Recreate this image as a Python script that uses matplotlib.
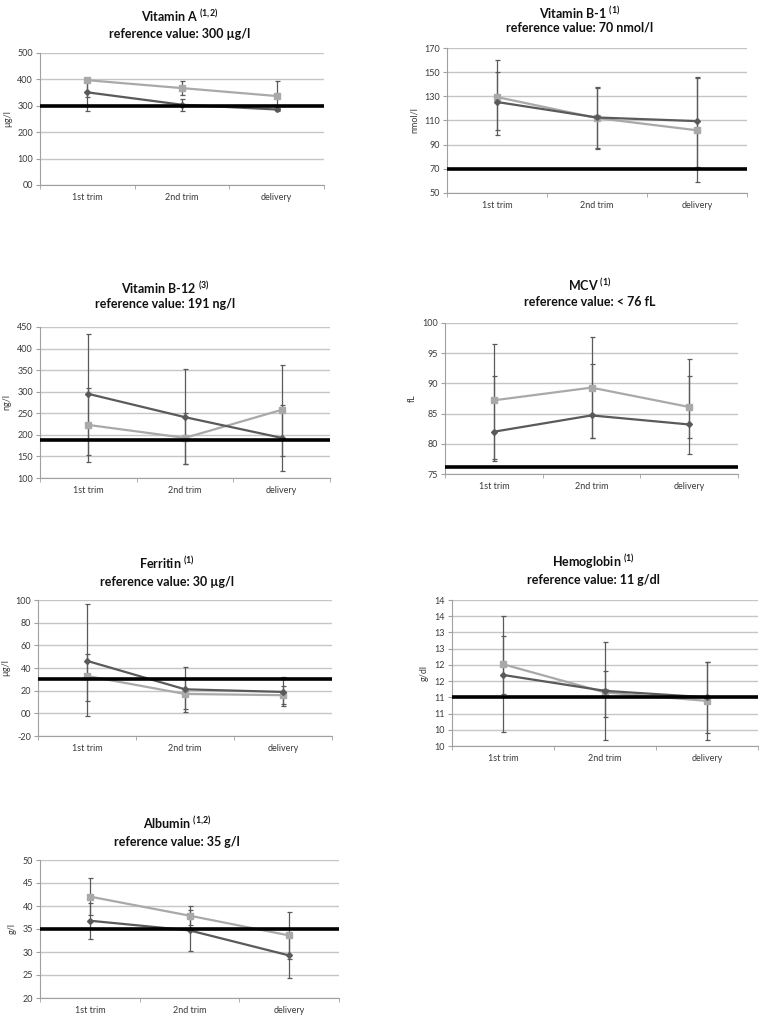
import numpy as np
import matplotlib
matplotlib.use('Agg')
import matplotlib.pyplot as plt
from matplotlib.ticker import FuncFormatter, FixedLocator

plt.rcParams['font.family'] = ['Lato', 'DejaVu Sans']
plt.rcParams['mathtext.fontset'] = 'custom'
plt.rcParams['mathtext.rm'] = 'Lato'
plt.rcParams['mathtext.bf'] = 'Lato:bold'
plt.rcParams['mathtext.default'] = 'bf'

timepoints = ['1st trim', '2nd trim', 'delivery']

# Vitamin A (µg/l)
vita_dark = [351, 304, 286]
vita_dark_lo = [281, 281, 283]
vita_dark_hi = [400, 325, 292]
vita_light = [397, 367, 337]
vita_light_lo = [334, 340, 281]
vita_light_hi = [405, 394, 393]

# Vitamin B-1 (nmol/l)
vitb1_dark = [125.3, 112.5, 109.5]
vitb1_dark_lo = [101.9, 87, 71.5]
vitb1_dark_hi = [150.1, 137, 146]
vitb1_light = [129.4, 112, 101.9]
vitb1_light_lo = [97.7, 86, 59]
vitb1_light_hi = [160.3, 138, 145]

# Vitamin B-12 (ng/l)
vitb12_dark = [295, 241, 193]
vitb12_dark_lo = [154, 132, 117]
vitb12_dark_hi = [434, 352, 270]
vitb12_light = [223, 193, 258]
vitb12_light_lo = [137, 133, 152]
vitb12_light_hi = [309, 250, 363]

# MCV (fL)
mcv_dark = [82.0, 84.7, 83.2]
mcv_dark_lo = [77.2, 81.0, 80.9]
mcv_dark_hi = [91.3, 93.2, 91.3]
mcv_light = [87.2, 89.3, 86.1]
mcv_light_lo = [77.5, 80.9, 78.3]
mcv_light_hi = [96.6, 97.7, 94.1]

# Ferritin (µg/l)
ferr_dark = [46.3, 21.2, 18.9]
ferr_dark_lo = [-2.7, 1.2, 6.5]
ferr_dark_hi = [96.2, 41.3, 32.2]
ferr_light = [33.0, 17.1, 16.0]
ferr_light_lo = [11.2, 3.5, 8.0]
ferr_light_hi = [52.2, 30.7, 23.9]

# Hemoglobin (g/dl)
hb_dark = [11.69, 11.2, 11.0]
hb_dark_lo = [9.93, 9.69, 9.9]
hb_dark_hi = [13.5, 12.7, 12.1]
hb_light = [12.02, 11.15, 10.89]
hb_light_lo = [11.1, 10.4, 9.69]
hb_light_hi = [12.9, 11.81, 12.09]

# Albumin (g/l)
alb_dark = [36.8, 34.7, 29.25]
alb_dark_lo = [32.9, 30.3, 24.45]
alb_dark_hi = [40.7, 39.1, 34.05]
alb_light = [42.05, 37.9, 33.6]
alb_light_lo = [38.1, 35.9, 28.5]
alb_light_hi = [46.0, 39.9, 38.7]

W, H = 764, 1019
fig = plt.figure(figsize=(W / 100, H / 100), dpi=100)

DARK = '#5a5a5a'
LIGHT = '#a9a9a9'
GRID = '#c6c6c6'
TICK = '#3a3a3a'


def px_axes(x0, y0, x1, y1):
    return fig.add_axes([x0 / W, 1 - y1 / H, (x1 - x0) / W, (y1 - y0) / H])


def title(cx, y1, y2, name, sup, ref):
    fig.text(cx / W, 1 - y1 / H, name + r'$^{' + sup + '}$', ha='center', va='center',
             fontsize=9, fontweight='bold', color='#111111')
    fig.text(cx / W, 1 - y2 / H, ref, ha='center', va='center',
             fontsize=9, fontweight='bold', color='#111111')


def panel(ax, dark, dlo, dhi, light, llo, lhi, ref, ymin, ymax, step, ylabel, fmt):
    x = np.arange(len(timepoints))
    ax.set_xlim(-0.5, 2.5)
    ax.set_ylim(ymin, ymax)
    ax.yaxis.set_major_locator(FixedLocator(np.arange(ymin, ymax + step / 2, step)))
    ax.yaxis.set_major_formatter(FuncFormatter(fmt))
    ax.grid(axis='y', color=GRID, lw=1.0, zorder=0)
    ax.set_axisbelow(True)
    for s in ['top', 'right']:
        ax.spines[s].set_visible(False)
    for s in ['left', 'bottom']:
        ax.spines[s].set_color('#a0a0a0')
        ax.spines[s].set_linewidth(0.8)
    ax.set_xticks(x)
    ax.set_xticklabels(timepoints)
    ax.xaxis.set_minor_locator(FixedLocator([-0.5, 0.5, 1.5, 2.5]))
    ax.tick_params(axis='x', which='major', length=0, labelsize=6.5, colors=TICK, pad=6)
    ax.tick_params(axis='x', which='minor', length=3, color='#a0a0a0', direction='out')
    ax.tick_params(axis='y', length=3, color='#a0a0a0', labelsize=6.5, labelcolor=TICK, pad=2)
    ax.set_ylabel(ylabel, fontsize=6.5, color=TICK, labelpad=4)

    d = np.array(dark)
    l = np.array(light)
    ax.errorbar(x, d, yerr=[d - np.array(dlo), np.array(dhi) - d], fmt='none',
                ecolor=DARK, elinewidth=0.9, capsize=1.8, capthick=0.9, zorder=3)
    ax.errorbar(x, l, yerr=[l - np.array(llo), np.array(lhi) - l], fmt='none',
                ecolor=DARK, elinewidth=0.9, capsize=1.8, capthick=0.9, zorder=3)
    ax.plot(x, l, color=LIGHT, lw=1.6, marker='s', ms=5, mfc=LIGHT, mec=LIGHT, zorder=4)
    ax.plot(x, d, color=DARK, lw=1.6, marker='D', ms=3, mfc=DARK, mec=DARK, zorder=5)
    ax.axhline(ref, color='black', lw=2.6, zorder=6)


def plain(v, pos):
    return '{:02.0f}'.format(v)


def rounded(v, pos):
    return '{:d}'.format(int(np.floor(v + 0.5 + 1e-9)))


ax = px_axes(40, 53, 324, 185)
panel(ax, vita_dark, vita_dark_lo, vita_dark_hi, vita_light, vita_light_lo, vita_light_hi,
      300, 0, 500, 100, 'µg/l', plain)
title(180, 16, 34, 'Vitamin A ', '(1{,}2)', 'reference value: 300 µg/l')

ax = px_axes(447, 48, 747, 193)
panel(ax, vitb1_dark, vitb1_dark_lo, vitb1_dark_hi, vitb1_light, vitb1_light_lo, vitb1_light_hi,
      70, 50, 170, 20, 'nmol/l', plain)
title(580, 13, 28, 'Vitamin B-1 ', '(1)', 'reference value: 70 nmol/l')

ax = px_axes(40, 327, 330, 478)
panel(ax, vitb12_dark, vitb12_dark_lo, vitb12_dark_hi, vitb12_light, vitb12_light_lo, vitb12_light_hi,
      189, 100, 450, 50, 'ng/l', plain)
title(165, 288, 304, 'Vitamin B-12 ', '(3)', 'reference value: 191 ng/l')

ax = px_axes(445, 323, 738, 474)
panel(ax, mcv_dark, mcv_dark_lo, mcv_dark_hi, mcv_light, mcv_light_lo, mcv_light_hi,
      76.2, 75, 100, 5, 'fL', plain)
title(590, 285, 302, 'MCV ', '(1)', 'reference value: < 76 fL')

ax = px_axes(38, 600, 332, 736)
panel(ax, ferr_dark, ferr_dark_lo, ferr_dark_hi, ferr_light, ferr_light_lo, ferr_light_hi,
      30, -20, 100, 20, 'µg/l', plain)
title(167, 563, 582, 'Ferritin ', '(1)', 'reference value: 30 µg/l')

ax = px_axes(452, 600, 758, 746)
panel(ax, hb_dark, hb_dark_lo, hb_dark_hi, hb_light, hb_light_lo, hb_light_hi,
      11, 9.5, 14, 0.5, 'g/dl', rounded)
title(593, 562, 580, 'Hemoglobin ', '(1)', 'reference value: 11 g/dl')

ax = px_axes(40, 860, 339, 998)
panel(ax, alb_dark, alb_dark_lo, alb_dark_hi, alb_light, alb_light_lo, alb_light_hi,
      35, 20, 50, 5, 'g/l', plain)
title(177, 823, 842, 'Albumin ', '(1{,}2)', 'reference value: 35 g/l')

fig.savefig('out.png', dpi=100)
